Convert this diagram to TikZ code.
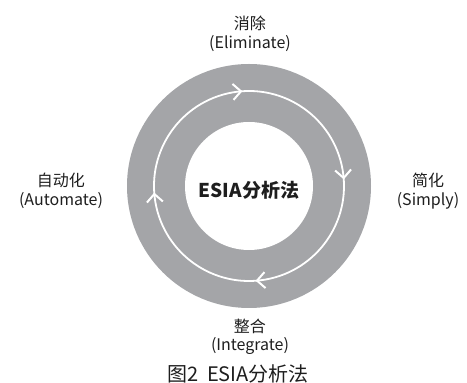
\documentclass[tikz,border=0pt]{standalone}
\usepackage{fontspec}
\setmainfont{Noto Sans CJK SC}
\usetikzlibrary{decorations.markings,arrows.meta}
\definecolor{ringgray}{HTML}{A4A5A8}
\definecolor{txt}{HTML}{1E1E1E}
\tikzset{
  x=1pt,y=1pt,
  lbl/.style={text=txt,font=\fontsize{16}{18.5}\selectfont,align=center,inner sep=0pt},
  flowring/.style={draw=white,line width=1.8pt,
    postaction={decorate},
    decoration={markings,
      mark=at position 0.0167 with {\arrow[white]{Straight Barb[length=8pt,width=16pt,line width=2pt]}},
      mark=at position 0.2667 with {\arrow[white]{Straight Barb[length=8pt,width=16pt,line width=2pt]}},
      mark=at position 0.5167 with {\arrow[white]{Straight Barb[length=8pt,width=16pt,line width=2pt]}},
      mark=at position 0.7667 with {\arrow[white]{Straight Barb[length=8pt,width=16pt,line width=2pt]}}}}
}
\begin{document}
\begin{tikzpicture}
\useasboundingbox (0,0) rectangle (467,383);
\fill[white] (0,0) rectangle (467,383);
\coordinate (c) at (249,197);
\node[circle,fill=ringgray,minimum size=244pt,inner sep=0pt] (ring) at (c) {};
\node[circle,fill=white,minimum size=128pt,inner sep=0pt] (core) at (c) {};
\draw[flowring] (c) ++(100:95) arc[start angle=100,end angle=-260,radius=95];
\node[text=txt,font=\bfseries\fontsize{19}{21}\selectfont,inner sep=0pt] (title) at (249,193) {ESIA分析法};
\node[lbl] (elim) at (250,349) {消除\\(Eliminate)};
\node[lbl] (simp) at (428,192) {简化\\(Simply)};
\node[lbl] (auto) at (61,192) {自动化\\(Automate)};
\node[lbl] (inte) at (250,46) {整合\\(Integrate)};
\node[text=txt,font=\fontsize{20}{22}\selectfont,inner sep=0pt] (cap) at (238,9) {图2\hspace{0.45em}ESIA分析法};
\end{tikzpicture}
\end{document}
